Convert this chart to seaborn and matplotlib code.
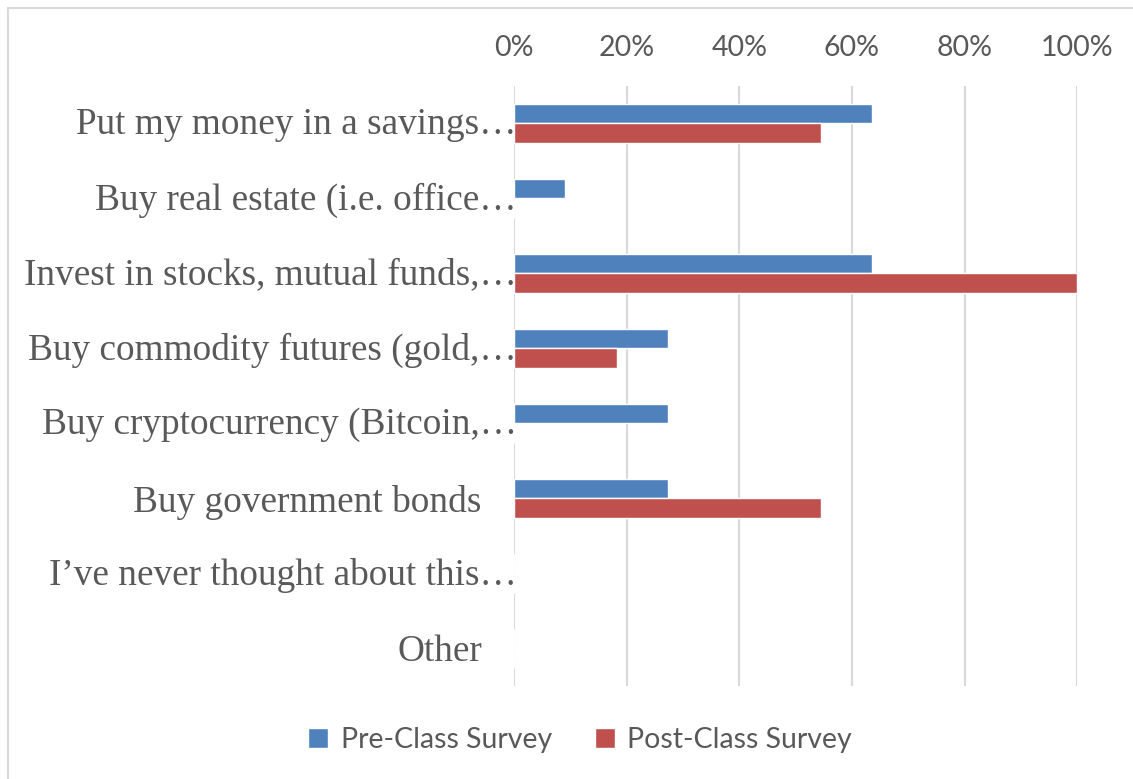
import matplotlib
matplotlib.use("Agg")
import matplotlib.pyplot as plt
import matplotlib.transforms as mtransforms
from matplotlib.patches import Rectangle
from matplotlib.ticker import PercentFormatter
import seaborn as sns
import pandas as pd

# Survey answers (share of respondents, %)
options = [
    "Put my money in a savings\u2026",
    "Buy real estate (i.e. office\u2026",
    "Invest in stocks, mutual funds,\u2026",
    "Buy commodity futures (gold,\u2026",
    "Buy cryptocurrency (Bitcoin,\u2026",
    "Buy government bonds",
    "I\u2019ve never thought about this\u2026",
    "Other",
]
pre_class = [63.6, 9.1, 63.6, 27.3, 27.3, 27.3, 0.0, 0.0]
post_class = [54.5, 0.0, 100.0, 18.2, 0.0, 54.5, 0.0, 0.0]
series_names = ["Pre-Class Survey", "Post-Class Survey"]
x_ticks = [0, 20, 40, 60, 80, 100]

df = pd.DataFrame({
    "option": options * 2,
    "share": pre_class + post_class,
    "survey": [series_names[0]] * len(options) + [series_names[1]] * len(options),
})

sns.set_theme(style="white")
TEXT = "#595959"
GRID = "#D9D9D9"
palette = {series_names[0]: "#4F81BD", series_names[1]: "#C0504D"}

fig = plt.figure(figsize=(11.33, 7.79), dpi=100)
ax = fig.add_axes([0.4537, 0.12, 0.4970, 0.7702])

sns.barplot(data=df, y="option", x="share", hue="survey", order=options,
            hue_order=series_names, palette=palette, orient="h",
            width=0.52, saturation=1, ax=ax, legend=True)

ax.set_xlim(0, 100)
ax.set_ylim(len(options) - 0.5, -0.5)
ax.set_xticks(x_ticks)
ax.xaxis.set_major_formatter(PercentFormatter(decimals=0))
ax.xaxis.tick_top()
ax.tick_params(axis="x", length=0, pad=18, labelsize=20.5, labelcolor=TEXT)
for lab in ax.get_xticklabels():
    lab.set_family("Lato")
ax.tick_params(axis="y", length=0, pad=-2, labelsize=26.8, labelcolor=TEXT)
for lab in ax.get_yticklabels():
    lab.set_family("Liberation Serif")
    if not lab.get_text().endswith("\u2026"):
        lab.set_transform(lab.get_transform() +
                          mtransforms.ScaledTranslation(-35 / 100, 0, fig.dpi_scale_trans))
    else:
        lab.set_transform(lab.get_transform() +
                          mtransforms.ScaledTranslation(0, 2 / 100, fig.dpi_scale_trans))
ax.set_xlabel("")
ax.set_ylabel("")
ax.grid(axis="x", color=GRID, linewidth=1.5)
ax.set_axisbelow(True)
for s in ax.spines.values():
    s.set_visible(False)

handles, labels = ax.get_legend_handles_labels()
ax.get_legend().remove()
fig.legend(handles, labels, loc="center", bbox_to_anchor=(0.512, 0.05), ncol=2,
           frameon=False, handlelength=0.7, handleheight=0.7, handletextpad=0.45,
           columnspacing=1.5, prop={"family": "Lato", "size": 20.5}, labelcolor=TEXT)

# chart area border
fig.patches.append(Rectangle((8 / 1133, -0.05), 1.2, 1.05 - 8 / 779,
                             transform=fig.transFigure, fill=False,
                             edgecolor=GRID, linewidth=1.5, figure=fig))

fig.savefig("out.png", dpi=100)
